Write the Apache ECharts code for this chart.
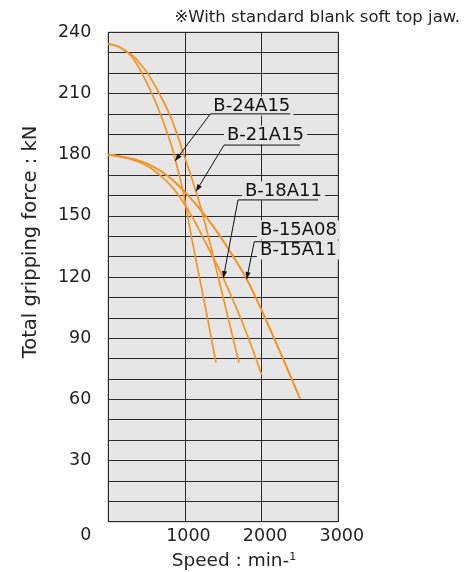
<!DOCTYPE html>
<html><head><meta charset="utf-8">
<script src="https://cdn.jsdelivr.net/npm/echarts/dist/echarts.min.js"></script>
<style>html,body{margin:0;padding:0;background:#fff}#c{width:474px;height:572px}</style>
</head><body><div id="c"></div>
<script>
// ---- data (speed min^-1, total gripping force kN) ----
const b24a15 = [[0,234.3],[127,233.0],[231,230.8],[309,227.9],[374,224.2],[440,219.8],[566,210.2],[674,200.4],[770,190.6],[848,181.3],[965,163.6],[1023,152.4],[1088,139.1],[1196,118.5],[1304,97.9],[1405,78.0]];
const b21a15 = [[0,234.3],[127,233.0],[231,230.6],[322,228.4],[413,224.7],[501,220.5],[583,215.6],[661,210.2],[792,200.4],[892,190.6],[978,180.8],[1088,168.5],[1174,158.2],[1239,149.4],[1326,136.7],[1392,126.4],[1548,102.3],[1705,78.0]];
const b18a11 = [[0,180],[179,178.8],[361,176.9],[531,173.9],[687,169.5],[844,163.6],[1000,155.3],[1118,147.9],[1231,139.6],[1366,129.8],[1500,119.5],[1626,108.7],[1757,96.9],[1881,84.7],[2001,71.9]];
const b15a08 = [[0,180],[205,178.8],[413,176.9],[596,173.9],[779,169.5],[935,164.1],[1066,159.0],[1196,153.3],[1326,147.0],[1457,140.1],[1626,130.3],[1805,119.0],[1913,110.7],[2022,101.9],[2253,82.2],[2500,60.4]];
const b15a11 = b15a08;
const seriesNames = ['B-24A15','B-21A15','B-18A11','B-15A08','B-15A11'];
const seriesData = [b24a15, b21a15, b18a11, b15a08, b15a11];
const xLabels = [1000, 2000, 3000];
const yLabels = [30, 60, 90, 120, 150, 180, 210, 240];

// annotation labels (data coords: left edge, vertical centre)
const labelTexts = ['B-24A15','B-21A15','B-18A11','B-15A08','B-15A11'];
const labelPos = [[1331,203.9],[1509,189.6],[1744,162.2],[1940,143.1],[1940,133.3]];
// leader lines: underline start, underline end, arrow tip
const leaders = [
  {start:[1331,200], end:[2374,200], tip:[873,177]},
  {start:[1509,184.7], end:[2500,184.7], tip:[1144,162]},
  {start:[1692,157.8], end:[2735,157.8], tip:[1500,119.5]},
  {start:[1904,137.3], end:[2765,137.3], tip:[1805,119]}
];

const FONT = 'DejaVu Sans';
const chart = echarts.init(document.getElementById('c'));
const option = {
  animation: false,
  grid: {left:108.3, right:135.7, top:32.3, bottom:50.3, show:true, backgroundColor:'#e6e6e6', borderColor:'#333', borderWidth:1},
  xAxis: {
    type:'value', min:0, max:3000, interval:1000,
    axisLine:{show:false}, axisTick:{show:false},
    splitLine:{show:true, lineStyle:{color:'#2a2a2a', width:1}},
    axisLabel:{color:'#222', fontFamily:FONT, fontSize:17.5, margin:6, padding:[0,0,0,7],
      formatter: v => xLabels.indexOf(v) >= 0 ? String(v) : ''}
  },
  yAxis: {
    type:'value', min:0, max:240, interval:10,
    axisLine:{show:false}, axisTick:{show:false},
    splitLine:{show:true, lineStyle:{color:'#2a2a2a', width:1}},
    axisLabel:{color:'#222', fontFamily:FONT, fontSize:17.5, margin:17,
      formatter: v => v === 0 ? '{z|0}' : (yLabels.indexOf(v) >= 0 ? String(v) : ''),
      rich:{z:{fontFamily:FONT, fontSize:17.5, color:'#222', padding:[27,0,0,0]}}}
  },
  series: seriesData.map((d,i) => ({
    name: seriesNames[i], type:'line', data:d, smooth:0.5, showSymbol:false, symbol:'none',
    lineStyle:{color:'#f7931e', width:1.7}, z:3
  }))
};
chart.setOption(option);

const px = p => chart.convertToPixel({gridIndex:0}, p);
const g = [];
g.push({type:'text', x:460, y:18, z:100, style:{text:'※With standard blank soft top jaw.', fontFamily:FONT, fontSize:16.5, fill:'#222', align:'right', verticalAlign:'middle'}});
g.push({type:'text', x:30.5, y:242, rotation:Math.PI/2, z:100, style:{text:'Total gripping force : kN', fontFamily:FONT, fontSize:19.5, fill:'#222', align:'center', verticalAlign:'middle'}});
g.push({type:'text', x:234, y:561, z:100, style:{text:'Speed : min-{s|1}', fontFamily:FONT, fontSize:18.5, fill:'#222', align:'center', verticalAlign:'middle',
  rich:{s:{fontFamily:FONT, fontSize:11, fill:'#222', padding:[0,0,7,0]}}}});
labelTexts.forEach((t,i) => {
  const p = px(labelPos[i]);
  g.push({type:'text', x:p[0], y:p[1], z:99, style:{text:t, fontFamily:FONT, fontSize:18, fill:'#111', align:'left', verticalAlign:'middle', backgroundColor:'#e6e6e6', padding:[1,3,0,3]}});
});
leaders.forEach(a => {
  const s = px(a.start), e = px(a.end), t = px(a.tip);
  g.push({type:'line', z:101, shape:{x1:s[0],y1:s[1],x2:e[0],y2:e[1]}, style:{stroke:'#111', lineWidth:1}});
  g.push({type:'line', z:101, shape:{x1:s[0],y1:s[1],x2:t[0],y2:t[1]}, style:{stroke:'#111', lineWidth:1}});
  const ang = Math.atan2(t[1]-s[1], t[0]-s[0]);
  const L = 7, W = 2.6;
  const bx = t[0]-L*Math.cos(ang), by = t[1]-L*Math.sin(ang);
  g.push({type:'polygon', z:101, shape:{points:[[t[0],t[1]],[bx+W*Math.sin(ang), by-W*Math.cos(ang)],[bx-W*Math.sin(ang), by+W*Math.cos(ang)]]}, style:{fill:'#111'}});
});
chart.setOption({graphic:{elements:g}});
</script></body></html>
